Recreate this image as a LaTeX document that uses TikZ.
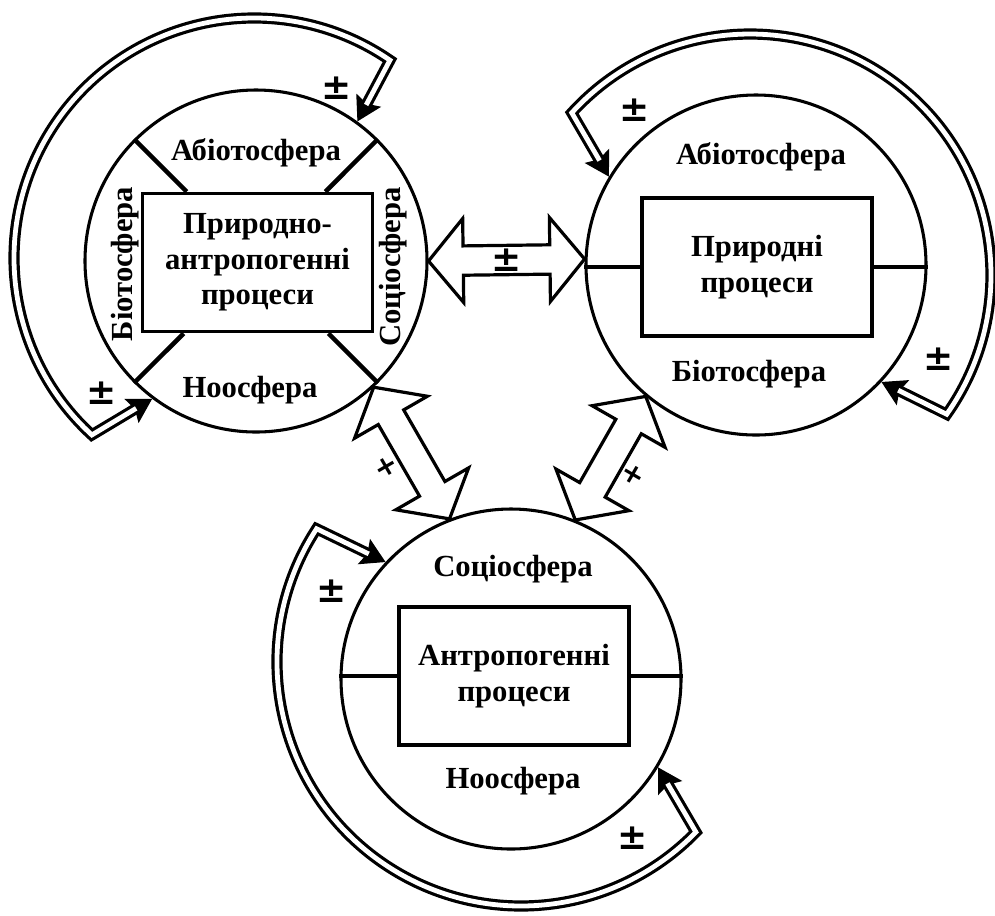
\documentclass[tikz,border=0pt]{standalone}
\usepackage{fontspec}
\setmainfont{Liberation Serif}
\newfontfamily\signfont{DejaVu Sans}
\usetikzlibrary{arrows.meta,calc}

\tikzset{
  sphere/.style={circle, draw, line width=2.3pt, minimum size=255pt, inner sep=0pt},
  procbox/.style={rectangle, draw, line width=2.3pt, minimum width=172.5pt,
    minimum height=103.5pt, inner sep=0pt, align=center,
    font=\fontsize{23}{26.5}\selectfont\bfseries},
  zonetext/.style={font=\fontsize{23}{26}\selectfont\bfseries, inner sep=0pt},
  divider/.style={line width=2.3pt},
  thickdivider/.style={line width=3.4pt},
  loopline/.style={line width=2.4pt, double=white, double distance=3.6pt},
  looptip/.style={line width=1pt, -{Stealth[length=18pt,width=21pt,inset=3pt]}},
  blockarrow/.style={draw, fill=white, line width=2.4pt, line join=miter},
  sign/.style={font=\signfont\fontsize{27}{27}\selectfont\bfseries, inner sep=0pt},
  smallsign/.style={font=\signfont\fontsize{21}{21}\selectfont\bfseries, inner sep=0pt},
}

% two-headed block arrow between two border points
\newcommand\dualblock[2]{%
  \path ($(#1)!26pt!(#2)$) coordinate (ha) ($(#2)!26pt!(#1)$) coordinate (hb);
  \draw[blockarrow] (#1) -- ($(ha)!31.5pt!90:(#2)$) -- ($(ha)!11pt!90:(#2)$)
    -- ($(hb)!11pt!-90:(#1)$) -- ($(hb)!31.5pt!-90:(#1)$) -- (#2)
    -- ($(hb)!31.5pt!90:(#1)$) -- ($(hb)!11pt!90:(#1)$)
    -- ($(ha)!11pt!-90:(#2)$) -- ($(ha)!31.5pt!-90:(#2)$) -- cycle;}

\begin{document}
\begin{tikzpicture}[x=0.75pt, y=0.75pt, yscale=-1]
\useasboundingbox (0,0) rectangle (995,915);

% ---------- spheres ----------
\node[sphere, minimum size=256.5pt] (L) at (256,261) {};
\node[sphere] (R) at (756,265) {};
\node[sphere] (B) at (511,679) {};

% ---------- process boxes ----------
\node[procbox, minimum height=104pt] (LP) at (257.5,262.5) {Природно-\\антропогенні\\процеси};
\node[procbox] (RP) at (757,267) {Природні\\процеси};
\node[procbox] (BP) at (514,676) {Антропогенні\\процеси};

% ---------- dividers ----------
\draw[thickdivider] (L.135) -- (intersection of L.135--L.center and LP.north west--LP.north east);
\draw[thickdivider] (L.45)  -- (intersection of L.45--L.center and LP.north west--LP.north east);
\draw[thickdivider] (L.-135) -- (intersection of L.-135--L.center and LP.south west--LP.south east);
\draw[thickdivider] (L.-45) -- (intersection of L.-45--L.center and LP.south west--LP.south east);
\draw[divider] (RP.west) -- (RP.west -| R.west);
\draw[divider] (RP.east) -- (RP.east -| R.east);
\draw[divider] (BP.west) -- (BP.west -| B.west);
\draw[divider] (BP.east) -- (BP.east -| B.east);

% ---------- zone labels ----------
\node[zonetext] (La) at (256,153) {Абіотосфера};
\node[zonetext] (Ln) at (250,390) {Ноосфера};
\node[zonetext, rotate=90] (Lb) at (125,264) {Біотосфера};
\node[zonetext, rotate=90] (Ls) at (393,267) {Соціосфера};
\node[zonetext] (Ra) at (761,157) {Абіотосфера};
\node[zonetext] (Rb) at (749,374) {Біотосфера};
\node[zonetext] (Bs) at (513,569) {Соціосфера};
\node[zonetext] (Bn) at (513,781) {Ноосфера};

% ---------- feedback loops ----------
\coordinate (Lc) at (254,258);
\coordinate (Lk1) at ($(Lc)+(-55.5:240)$);
\coordinate (Lk2) at ($(Lc)+(132.5:238)$);
\draw[looptip] (Lk1) -- (L.54);
\draw[looptip] (Lk2) -- (L.-127);
\draw[loopline, shorten <=14pt, shorten >=14pt] (L.54) -- (Lk1)
  arc[start angle=-55.5, end angle=-227.5, radius=240] -- (L.-127);

\coordinate (Rc) at (750,275);
\coordinate (Rk1) at ($(Rc)+(-137.7:241)$);
\coordinate (Rk2) at ($(Rc)+(35.3:242)$);
\draw[looptip] (Rk1) -- (R.149);
\draw[looptip] (Rk2) -- (R.-43);
\draw[loopline, shorten <=14pt, shorten >=14pt] (R.149) -- (Rk1)
  arc[start angle=-137.7, end angle=35.3, radius=241] -- (R.-43);

\coordinate (Bc) at (521,662);
\coordinate (Bk1) at ($(Bc)+(213.1:244)$);
\coordinate (Bk2) at ($(Bc)+(44.2:244)$);
\draw[looptip] (Bk1) -- (B.137);
\draw[looptip] (Bk2) -- (B.-31);
\draw[loopline, shorten <=14pt, shorten >=14pt] (B.137) -- (Bk1)
  arc[start angle=213.1, end angle=44.2, radius=244] -- (B.-31);

% ---------- interaction arrows ----------
\dualblock{L.0}{R.178}
\dualblock{L.-47}{B.111}
\dualblock{R.-130}{B.68}

% ---------- signs ----------
\node[sign] (sL1) at (337,88) {±};
\node[sign] (sL2) at (102,393) {±};
\node[sign] (sR1) at (635,110) {±};
\node[sign] (sR2) at (939,359) {±};
\node[sign] (sB1) at (332,591) {±};
\node[sign] (sB2) at (633,838) {±};
\node[sign] (sLR) at ($(L.0)!0.5!(R.178)$) {±};
\node[smallsign, rotate=30] (sLB) at (386,467) {+};
\node[smallsign, rotate=-30] (sRB) at (633,475) {+};
\end{tikzpicture}
\end{document}
